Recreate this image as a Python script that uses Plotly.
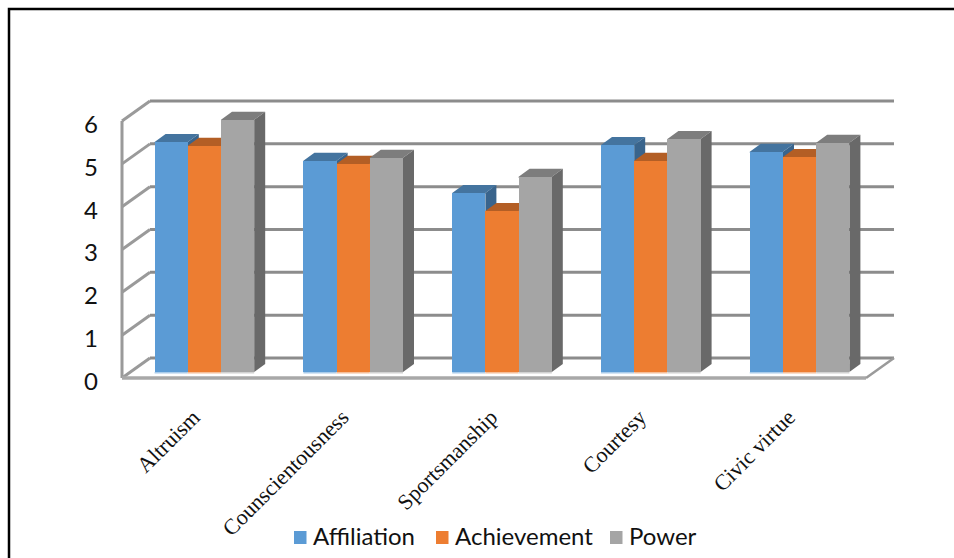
import plotly.graph_objects as go

# Survey scores by category and motive
categories = ["Altruism", "Counscientousness", "Sportsmanship", "Courtesy", "Civic virtue"]
affiliation = [5.37, 4.93, 4.18, 5.30, 5.14]
achievement = [5.28, 4.86, 3.76, 4.93, 5.02]
power = [5.89, 5.00, 4.56, 5.44, 5.35]
value_ticks = [0, 1, 2, 3, 4, 5, 6]

W, H = 954, 558

# Pixel frame of the simulated 3-D box
X_FRONT, Y_FRONT = 122.0, 378.0
CAT_PX, UNIT_PX = 148.8, 42.83
WALL_DX, WALL_DY = 28.0 / CAT_PX, 20.0 / UNIT_PX    # box depth in data units
BAR_DX, BAR_DY = 11.0 / CAT_PX, 8.0 / UNIT_PX       # bar depth in data units
INSET_DX, INSET_DY = 8.0 / CAT_PX, 6.0 / UNIT_PX    # bar offset from box front
BAR_W = 33.2 / CAT_PX

# Plot area in pixels, a little larger than the box so its lines are not clipped
PX_L, PX_R, PX_T, PX_B = 108.0, 902.0, 90.0, 389.0
x_range = [(PX_L - X_FRONT) / CAT_PX - 0.5, (PX_R - X_FRONT) / CAT_PX - 0.5]
y_range = [(Y_FRONT - PX_B) / UNIT_PX, (Y_FRONT - PX_T) / UNIT_PX]
x_dom = [PX_L / W, PX_R / W]
y_dom = [1 - PX_B / H, 1 - PX_T / H]

# Label axes are the same scale nudged a few pixels, so tick text sits off the tick position
LABEL_NUDGE_X, LABEL_NUDGE_Y = 3.0 / CAT_PX, 3.5 / UNIT_PX

series = [
    ("Affiliation", affiliation, "#5B9BD5", "#44749F", "#39648C", "#A9CCEB"),
    ("Achievement", achievement, "#ED7D31", "#B35E25", "#9C5220", "#F6BE98"),
    ("Power", power, "#A5A5A5", "#7D7D7D", "#696969", "#D2D2D2"),
]

# Left edge of each legend swatch, in pixels
legend_px = [294, 436, 610]

fig = go.Figure()

# Box wireframe: back-wall gridlines, left-wall diagonals, floor edges
GRID = "#8C8C8C"
x0, x1 = -0.5, -0.5 + len(categories)


def wire(xa, ya, xb, yb, color=GRID, width=3):
    fig.add_shape(type="line", x0=xa, y0=ya, x1=xb, y1=yb, xref="x", yref="y",
                  layer="below", line=dict(color=color, width=width))


for v in value_ticks:
    wire(x0 + WALL_DX, v + WALL_DY, x1 + WALL_DX, v + WALL_DY)
    wire(x0, v, x0 + WALL_DX, v + WALL_DY, "#9A9A9A")
wire(x0, 0, x0, value_ticks[-1], "#9A9A9A", 3)
wire(x0, 0, x1, 0, "#A8A8A8", 3.5)
wire(x1, 0, x1 + WALL_DX, WALL_DY, "#9A9A9A", 2.5)

# Top and side faces of every bar, painted left to right on the lower axes
TUCK = 1.0 / UNIT_PX    # top face runs slightly under the front face so no seam shows
for s, (name, vals, front, top, side, glow) in enumerate(series):
    for c, v in enumerate(vals):
        left = c + INSET_DX + (s - 1.5) * BAR_W
        right = left + BAR_W
        h = INSET_DY + v
        fig.add_trace(go.Scatter(
            x=[left, left, right, right, right + BAR_DX, left + BAR_DX, left],
            y=[h, h - TUCK, h - TUCK, h, h + BAR_DY, h + BAR_DY, h],
            mode="lines", fill="toself", fillcolor=top, line=dict(width=0),
            showlegend=False, hoverinfo="skip"))
        fig.add_trace(go.Scatter(
            x=[right, right + BAR_DX, right + BAR_DX, right, right],
            y=[h, h + BAR_DY, INSET_DY + BAR_DY, INSET_DY, h],
            mode="lines", fill="toself", fillcolor=side, line=dict(width=0),
            showlegend=False, hoverinfo="skip"))
        # Pale lip along the foot of the bar
        wire(left, INSET_DY - 0.75 / UNIT_PX, right, INSET_DY - 0.75 / UNIT_PX, glow, 1.5)

# Front faces sit on an overlaid axis pair so they cover the depth faces
for s, (name, vals, front, top, side, glow) in enumerate(series):
    fig.add_trace(go.Bar(
        x=[c + INSET_DX + (s - 1) * BAR_W for c in range(len(categories))],
        y=vals, base=INSET_DY, width=BAR_W, name=name, showlegend=False,
        marker=dict(color=front, line=dict(width=0)),
        xaxis="x2", yaxis="y2"))

# Empty trace that brings the label axes into the figure
fig.add_trace(go.Scatter(x=[None], y=[None], xaxis="x3", yaxis="y3", showlegend=False,
                         hoverinfo="skip"))

# Legend row placed by hand: tight swatch-to-text gap
for (name, vals, front, top, side, glow), px in zip(series, legend_px):
    fig.add_shape(type="rect", xref="paper", yref="paper",
                  x0=px / W, x1=(px + 12.5) / W, y0=1 - 544 / H, y1=1 - 531 / H,
                  fillcolor=front, line=dict(width=0))
    fig.add_annotation(text=name, xref="paper", yref="paper", x=(px + 18) / W, y=1 - 535 / H,
                       xanchor="left", yanchor="middle", showarrow=False, borderpad=0,
                       font=dict(family="Lato", size=24, color="#111111"))

# Outer frame: left and top edges only
fig.add_shape(type="path", xref="paper", yref="paper", layer="above",
              path=f"M {9/W} -0.02 L {9/W} {1-9/H} L 1.02 {1-9/H}",
              line=dict(color="black", width=2.5))

fig.update_layout(
    width=W, height=H, autosize=False,
    margin=dict(l=0, r=0, t=0, b=0, autoexpand=False),
    paper_bgcolor="white", plot_bgcolor="rgba(0,0,0,0)",
    barmode="overlay", bargap=0, showlegend=False,
    xaxis=dict(domain=x_dom, range=x_range, visible=False, automargin=False),
    yaxis=dict(domain=y_dom, range=y_range, visible=False, automargin=False),
    xaxis2=dict(overlaying="x", range=x_range, visible=False, automargin=False),
    yaxis2=dict(overlaying="y", range=y_range, visible=False, automargin=False),
    xaxis3=dict(overlaying="x", range=[r + LABEL_NUDGE_X for r in x_range], automargin=False,
                showgrid=False, zeroline=False, showline=False,
                tickmode="array", tickvals=list(range(len(categories))), ticktext=categories,
                tickangle=-45, ticks="", ticklabelstandoff=10,
                tickfont=dict(family="Liberation Serif", size=22, color="#111111")),
    yaxis3=dict(overlaying="y", range=[r + LABEL_NUDGE_Y for r in y_range], automargin=False,
                showgrid=False, zeroline=False, showline=False,
                tickmode="array", tickvals=value_ticks, ticks="", ticklabelstandoff=9,
                tickfont=dict(family="Lato", size=24, color="#111111")),
)

fig.write_html("out.html")
